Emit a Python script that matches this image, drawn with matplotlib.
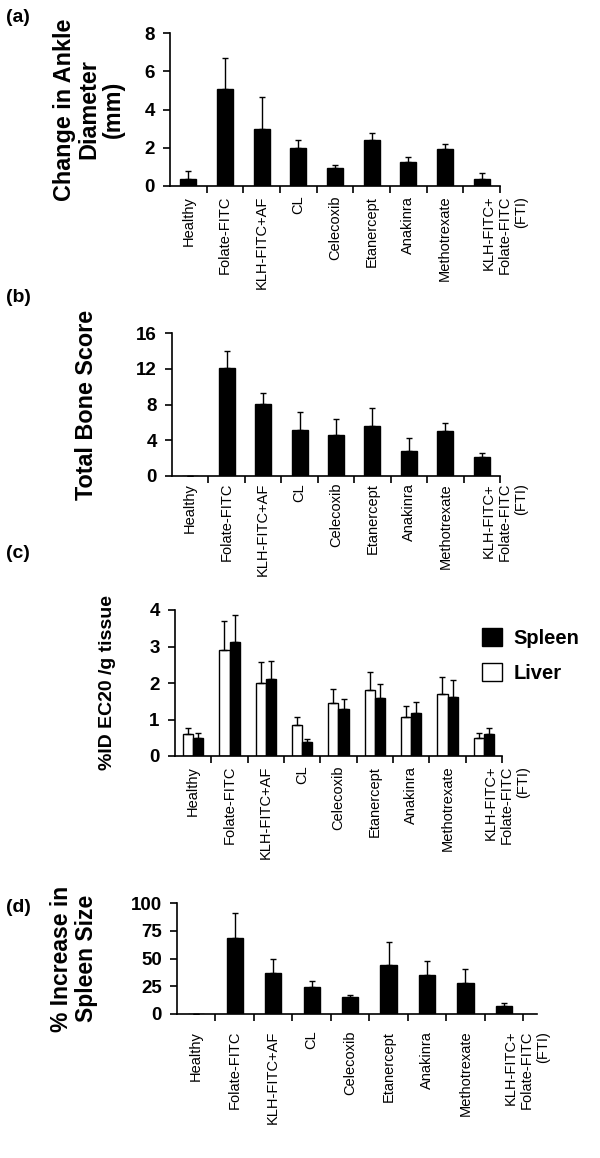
import matplotlib
matplotlib.use('Agg')
import matplotlib.pyplot as plt
from matplotlib.patches import Patch
import numpy as np

plt.rcParams['font.family'] = ['Liberation Sans', 'DejaVu Sans']

# данные
categories = ['Healthy', 'Folate-FITC', 'KLH-FITC+AF', 'CL', 'Celecoxib',
              'Etanercept', 'Anakinra', 'Methotrexate',
              'KLH-FITC+\nFolate-FITC\n(FTI)']

ankle_mean = [0.38, 5.05, 3.0, 2.0, 0.93, 2.41, 1.27, 1.94, 0.38]
ankle_err = [0.42, 1.62, 1.66, 0.4, 0.17, 0.36, 0.26, 0.24, 0.28]

bone_mean = [0, 12.1, 8.04, 5.12, 4.6, 5.6, 2.77, 5.08, 2.13]
bone_err = [0, 1.9, 1.3, 2.0, 1.75, 2.06, 1.53, 0.86, 0.47]

liver_mean = [0.59, 2.9, 2.0, 0.84, 1.46, 1.82, 1.06, 1.69, 0.49]
liver_err = [0.17, 0.8, 0.58, 0.22, 0.38, 0.47, 0.31, 0.47, 0.13]
spleen_mean = [0.5, 3.12, 2.1, 0.375, 1.29, 1.6, 1.19, 1.63, 0.59]
spleen_err = [0.12, 0.74, 0.5, 0.095, 0.28, 0.37, 0.28, 0.44, 0.17]

size_mean = [0, 68.1, 37.3, 24.7, 14.9, 44.4, 35.5, 28.3, 6.8]
size_err = [0, 23.3, 12.3, 5.4, 1.8, 20.6, 12.3, 12.0, 2.7]

W, H = 600, 1158
fig = plt.figure(figsize=(W / 100, H / 100), dpi=100)


def make_axes(x0, x1, ytop, ybot):
    return fig.add_axes([x0 / W, 1 - ybot / H, (x1 - x0) / W, (ybot - ytop) / H])


def style(ax, yticks, ylabel, label_x, xpad, lsize, xmax=8.5):
    n = len(categories)
    ax.set_xlim(-0.5, xmax)
    ax.set_ylim(0, yticks[-1])
    ax.set_yticks(yticks)
    ax.set_yticklabels([str(t) for t in yticks], fontsize=13.5, fontweight='bold')
    ax.set_xticks(np.arange(n) + 0.5)
    ax.set_xticklabels([])
    ax.set_xticks(np.arange(n), minor=True)
    ax.set_xticklabels(categories, minor=True, rotation=90, fontsize=10.5,
                       va='top', ha='center', ma='right')
    lab = ax.get_xticklabels(minor=True)[-1]
    lab.set_ha('left')
    ax.tick_params(axis='x', which='major', direction='out', length=5, width=1.2)
    ax.tick_params(axis='x', which='minor', length=0, pad=xpad)
    ax.tick_params(axis='y', direction='out', length=5, width=1.2, pad=6)
    for s in ['top', 'right']:
        ax.spines[s].set_visible(False)
    for s in ['left', 'bottom']:
        ax.spines[s].set_linewidth(1.2)
    ax.set_ylabel(ylabel, fontsize=lsize, fontweight='bold', linespacing=1.1)
    ax.yaxis.set_label_coords(label_x, 0.5)


ekw = dict(ecolor='black', elinewidth=1, capsize=2.5, capthick=1)
x = np.arange(len(categories))
zeros = np.zeros(len(categories))

# (a)
ax = make_axes(170, 500, 33, 186)
ax.bar(x, ankle_mean, 0.44, color='black', edgecolor='black',
       yerr=[zeros, ankle_err], error_kw=ekw)
style(ax, [0, 2, 4, 6, 8], 'Change in Ankle\nDiameter\n(mm)', -0.136, 7, 16.8)

# (b)
ax = make_axes(172, 500, 333, 476)
ax.bar(x, bone_mean, 0.44, color='black', edgecolor='black',
       yerr=[zeros, bone_err], error_kw=ekw)
style(ax, [0, 4, 8, 12, 16], 'Total Bone Score', -0.225, 5, 16.8)

# (c)
ax = make_axes(175, 502, 610, 756)
ax.bar(x - 0.14, liver_mean, 0.28, color='white', edgecolor='black', linewidth=1,
       yerr=[zeros, liver_err], error_kw=ekw)
ax.bar(x + 0.14, spleen_mean, 0.28, color='black', edgecolor='black', linewidth=1,
       yerr=[zeros, spleen_err], error_kw=ekw)
style(ax, [0, 1, 2, 3, 4], '%ID EC20 /g tissue', -0.18, 7, 14)
handles = [Patch(facecolor='black', edgecolor='black', label='Spleen'),
           Patch(facecolor='white', edgecolor='black', label='Liver')]
fig.legend(handles=handles, loc='upper left', bbox_to_anchor=(482 / W, 1 - 628 / H),
           frameon=False, prop={'size': 14.5, 'weight': 'bold'}, handlelength=1.0,
           handleheight=1.0, handletextpad=0.55, labelspacing=0.75,
           borderpad=0, borderaxespad=0)

# (d)
ax = make_axes(177, 537, 903, 1014)
ax.bar(x, size_mean, 0.42, color='black', edgecolor='black',
       yerr=[zeros, size_err], error_kw=ekw)
style(ax, [0, 25, 50, 75, 100], '% Increase in\nSpleen Size', -0.22, 12, 16.5, xmax=8.86)

for txt, yy in [('(a)', 18), ('(b)', 298), ('(c)', 553), ('(d)', 908)]:
    fig.text(6 / W, 1 - yy / H, txt, fontsize=14, fontweight='bold', va='center', ha='left')

fig.savefig('out.png', dpi=100)
